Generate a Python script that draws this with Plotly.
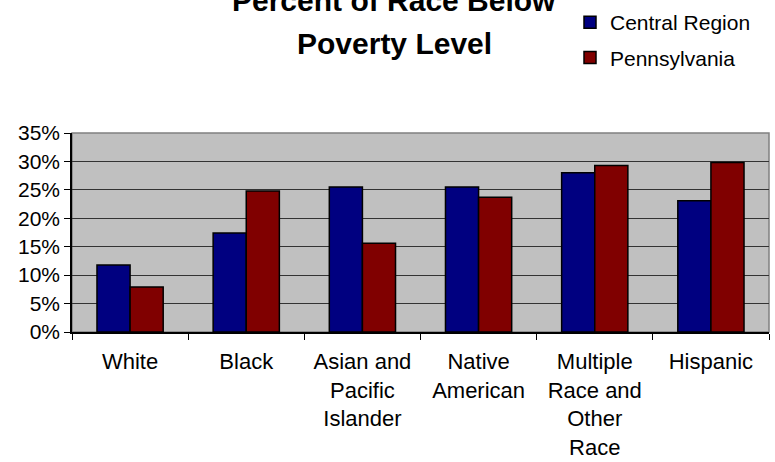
import plotly.graph_objects as go

# Poverty rates by race (percent)
categories = ["White", "Black", "Asian and<br>Pacific<br>Islander", "Native<br>American",
              "Multiple<br>Race and<br>Other<br>Race", "Hispanic"]
central_region = [11.8, 17.4, 25.5, 25.5, 28.0, 23.1]
pennsylvania = [7.9, 24.8, 15.6, 23.7, 29.3, 29.8]
y_ticks = [0, 5, 10, 15, 20, 25, 30, 35]
y_tick_labels = [f"{v}%" for v in y_ticks]

FONT = "Liberation Sans, Arial, sans-serif"
W, H = 775, 462
L, R, T, B = 72, 6, 133, 130
plot_w = W - L - R
plot_h = H - T - B


def xpaper(px):
    return (px - L) / plot_w


def ypaper(py):
    return (H - B - py) / plot_h


fig = go.Figure()
fig.add_trace(go.Bar(
    name="Central Region", x=categories, y=central_region,
    marker=dict(color="#000080", line=dict(color="black", width=1.5)),
    legendgroup="a",
))
fig.add_trace(go.Bar(
    name="Pennsylvania", x=categories, y=pennsylvania,
    marker=dict(color="#800000", line=dict(color="black", width=1.5)),
    legendgroup="b",
))

# two-line title, partly running off the top edge
fig.add_annotation(text="<b>Percent of Race Below</b>", xref="paper", yref="paper",
                   x=xpaper(394), y=ypaper(0), xanchor="center", yanchor="middle",
                   showarrow=False, font=dict(family=FONT, size=30, color="black"))
fig.add_annotation(text="<b>Poverty Level</b>", xref="paper", yref="paper",
                   x=xpaper(394), y=ypaper(44), xanchor="center", yanchor="middle",
                   showarrow=False, font=dict(family=FONT, size=30, color="black"))

# gray frame around the plot area
fig.add_shape(type="rect", xref="paper", yref="paper", x0=0, x1=1, y0=0, y1=1,
              line=dict(color="#808080", width=1.5), layer="between")

fig.update_layout(
    width=W, height=H,
    margin=dict(l=L, r=R, t=T, b=B, autoexpand=False),
    paper_bgcolor="white", plot_bgcolor="#C0C0C0",
    barmode="group", bargap=0.43, bargroupgap=0,
    font=dict(family=FONT, size=21, color="black"),
    showlegend=True,
    legend=dict(xref="paper", yref="paper", x=xpaper(570), y=ypaper(2),
                xanchor="left", yanchor="top", bgcolor="rgba(0,0,0,0)",
                tracegroupgap=5, font=dict(family=FONT, size=21, color="black"),
                itemwidth=30),
)
fig.update_xaxes(
    showline=True, linecolor="black", linewidth=1.5,
    ticks="outside", ticklen=6, tickcolor="black", tickson="boundaries",
    tickfont=dict(family=FONT, size=22, color="black"), ticklabelstandoff=9,
    showgrid=False, tickangle=0, automargin=False,
)
fig.update_yaxes(
    range=[0, 35], tickvals=y_ticks, ticktext=y_tick_labels,
    showline=True, linecolor="black", linewidth=1.5,
    ticks="outside", ticklen=6, tickcolor="black",
    tickfont=dict(family=FONT, size=21, color="black"),
    showgrid=True, gridcolor="#333333", gridwidth=1, zeroline=False, automargin=False,
)

fig.write_html("out.html")
